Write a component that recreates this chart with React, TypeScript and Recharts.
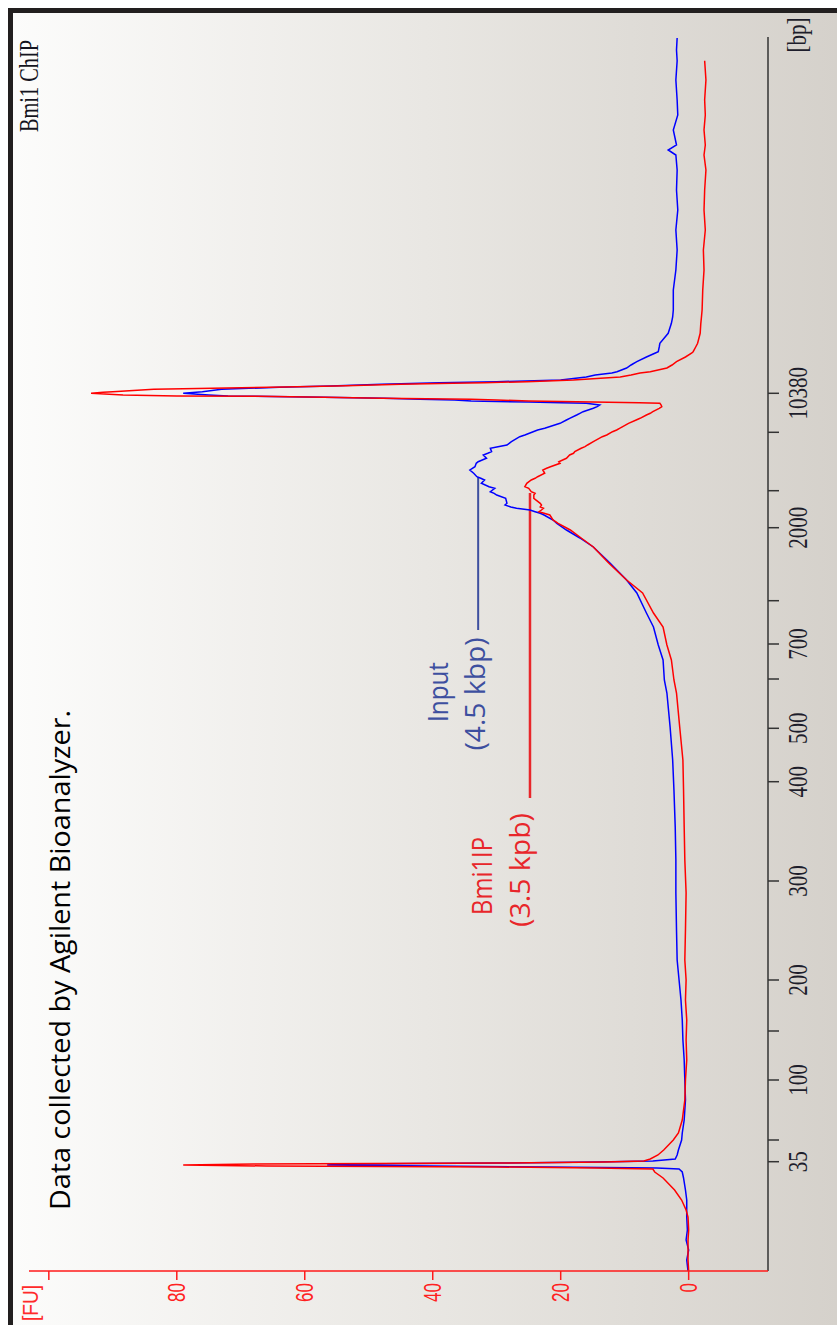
import React from 'react';
import { LineChart, Line, XAxis, YAxis, ReferenceLine } from 'recharts';

// migration time (s from start of the run window)
const times = [
  0, 1.1, 2.1, 3.1, 4.1, 5.4, 6.1, 7.1, 8.1, 9.3, 9.9, 10.2, 10.3, 10.4, 10.5, 10.6, 10.7, 10.8, 10.9, 11.0,
  11.2, 11.6, 12.1, 13.1, 13.8, 15.1, 17.1, 19.1, 21.1, 23.1, 25.1, 27.1, 29.1, 31.1, 34.1, 37.8, 41.1, 44.4,
  48.1, 51.1, 54.4, 57.8, 59.1, 61.1, 62.6, 64.4, 65.8, 67.8, 69.1, 70.8, 72.4, 73.3,
  74.1, 74.77, 75.1, 75.6, 75.77, 75.93, 76.1, 76.27, 76.4, 76.6, 76.77, 77.27, 77.6, 77.77, 77.93, 78.27,
  78.43, 78.77, 79.1, 79.27, 79.43, 79.77, 80.1, 80.27, 80.43, 80.77, 80.93, 81.27, 81.6, 81.77, 81.93, 82.27,
  82.43, 82.6, 82.93, 83.43, 83.6, 83.93, 84.1, 84.27, 84.77, 85.1, 85.27, 85.6, 85.77, 85.93, 86.27, 86.43, 86.6,
  86.77, 86.83, 86.9, 87.0, 87.1, 87.17, 87.27, 87.37, 87.47, 87.5, 87.6, 87.77, 87.87,
  87.93, 88.17, 88.37, 88.5, 88.67, 88.77, 88.83, 88.93, 89.1, 89.4, 89.6, 89.8, 89.93, 90.3, 90.6, 90.93, 91.4,
  91.8, 91.93, 92.4, 92.77, 93.77, 94.77, 95.4, 96.1, 98.1, 100.1, 102.1, 104.1, 106.1, 108.1, 110.1, 111.6,
  112.1, 112.6, 114.1, 115.6, 117.1, 119.1, 121.03, 122.1, 123.3,
];

// Input (blue)
const inputFU = [
  0.1, 0.3, 0.0, 0.4, 0.2, 0.3, 0.3, 0.3, 0.5, 0.8, 1.0, 1.5, 5, 22, 40, 56.5, 54, 29.5, 14.5, 5.6,
  2.1, 1.8, 1.6, 1.1, 1.0, 0.7, 0.5, 0.6, 0.7, 0.9, 1.0, 1.2, 1.5, 1.8, 1.9, 2.0, 2.0, 2.1,
  2.3, 2.5, 2.9, 3.4, 3.8, 4.0, 4.75, 5.5, 6.6, 8.1, 9.7, 12.3, 14.9, 17.0,
  19.1, 20.6, 21.2, 22.6, 23.2, 24.0, 24.8, 26.9, 27.8, 28.7, 28.4, 28.6, 30.0, 30.4, 31.0, 30.3,
  31.2, 32.4, 31.9, 32.5, 33.1, 33.6, 34.2, 33.8, 33.4, 33.2, 32.9, 31.6, 32.1, 31.4, 30.8, 31.0,
  29.8, 28.4, 27.7, 26.4, 25.6, 24.3, 23.6, 22.5, 20.1, 19.1, 18.6, 17.5, 17.0, 16.5, 14.9, 14.3, 13.9,
  16, 20, 25, 34, 36.6, 42, 47.6, 57, 68, 72, 75, 79, 77,
  76, 73, 64, 56, 48, 42, 39, 30, 20, 16, 14.6, 12, 11.2, 9.7, 9, 8.1, 6.6,
  5.2, 4.75, 4.6, 4.5, 3.2, 2.7, 2.5, 2.4, 2.4, 2.0, 1.8, 2.0, 1.7, 1.9, 1.8, 2.0,
  3.2, 1.9, 2.4, 1.7, 1.8, 2.0, 1.8, 1.9, 1.8,
];

// Bmi1 IP (red)
const bmi1FU = [
  0.0, 0.1, 0.1, 0.1, 0.0, 0.1, 0.4, 1.1, 2.2, 4.0, 5.3, 5.6, 14.5, 30, 66, 79, 68, 30, 13, 7,
  6.0, 4.8, 3.9, 2.4, 1.6, 1.0, 0.6, 0.5, 0.3, 0.4, 0.3, 0.5, 0.4, 0.6, 0.5, 0.4, 0.6, 0.7,
  0.8, 0.9, 1.4, 1.9, 2.3, 2.7, 3.4, 4.0, 5.5, 7.2, 9.7, 12.5, 14.9, 16.8,
  18.5, 20.4, 21.2, 21.7, 22.6, 23.4, 23.0, 22.7, 23.2, 23.0, 23.2, 24.2, 24.2, 24.0, 24.6, 25.0,
  25.6, 25.3, 24.6, 24.0, 23.6, 22.5, 22.8, 22.2, 21.6, 20.1, 20.3, 19.1, 18.6, 18.0, 17.8, 16.8,
  16.2, 15.8, 14.9, 13.5, 12.8, 11.9, 11.25, 10.8, 9.4, 8.2, 7.6, 6.6, 6.0, 5.6, 4.6, 4.2, 4.3,
  4.5, 7.7, 15, 25, 30, 34, 48, 57, 67.4, 80, 88.4, 93.4, 91.5,
  90, 83.6, 65.4, 55, 45, 36.9, 32, 25.3, 18, 10.7, 9, 7.6, 6, 3.4, 2.6, 1.9, 0.5,
  -0.5, -0.7, -1.1, -1.4, -1.8, -1.9, -2.0, -2.1, -2.2, -2.4, -2.3, -2.6, -2.4, -2.5, -2.7, -2.4,
  -2.5, -2.6, -2.4, -2.6, -2.5, -2.7, -2.5, null, null,
];

// ladder peaks (time) and their sizes in bp
const ladderTimes = [10.93, 13.1, 19.1, 24.0, 29.1, 39.0, 48.93, 54.27, 59.2, 62.7, 67.03, 74.33, 78.03, 83.87, 87.77];
const ladderLabels = ['35', '', '100', '', '200', '300', '400', '500', '', '700', '', '2000', '', '', '10380'];

const fuTicks = [0, 20, 40, 60, 80, 100];
const fuLabels = ['0', '20', '40', '60', '80', ''];

// leader lines from the labels to the smear maxima
const inputLeader = [{ x: 64.1, y: 32.9 }, { x: 79.4, y: 32.9 }];
const ipLeader = [{ x: 47.3, y: 24.8 }, { x: 77.8, y: 24.8 }];

const rows = times.map((t, i) => ({ t, input: inputFU[i], ip: bmi1FU[i] }));

const W = 1312;
const H = 824;
const BLUE_TXT = '#3d4f9f';
const RED_TXT = '#e8262a';

const Stretch = ({ x, y, sy, children, ...rest }: any) => (
  <g transform={`translate(${x},${y})`}>
    <text transform={`scale(1,${sy})`} {...rest}>{children}</text>
  </g>
);

const BpTick = (props: any) => {
  const { x, y, payload } = props;
  const i = ladderTimes.indexOf(payload.value);
  return (
    <Stretch x={x} y={y + 26} sy={1.3} textAnchor="middle" fontFamily="Liberation Serif" fontSize={21} fill="#1d1d2b">
      {ladderLabels[i]}
    </Stretch>
  );
};

const FuTick = (props: any) => {
  const { x, y, payload } = props;
  const i = fuTicks.indexOf(payload.value);
  return (
    <Stretch x={x - 1} y={y + 8} sy={1.37} textAnchor="end" fontFamily="Liberation Sans" fontSize={17} fill="#ff2020">
      {fuLabels[i]}
    </Stretch>
  );
};

const Notes = () => (
  <svg width={W} height={H} style={{ position: 'absolute', left: 0, top: 0, pointerEvents: 'none' }}>
    <Stretch x={1193} y={25} sy={1.3} fontFamily="Liberation Serif" fontSize={21} fill="#141420" textLength={92} lengthAdjust="spacingAndGlyphs">
      Bmi1 ChIP
    </Stretch>
    <Stretch x={1290} y={793} sy={1.3} textAnchor="middle" fontFamily="Liberation Serif" fontSize={21} fill="#1d1d2b">
      [bp]
    </Stretch>
    <Stretch x={4} y={25} sy={1.37} fontFamily="Liberation Sans" fontSize={16} fill="#ff2a2a" textLength={36} lengthAdjust="spacingAndGlyphs">
      [FU]
    </Stretch>
    <text x={115} y={57} fontFamily="Open Sans" fontSize={28} fill="#000" textLength={500} lengthAdjust="spacingAndGlyphs">
      Data collected by Agilent Bioanalyzer.
    </text>
    <g fontFamily="Open Sans" fontSize={27} textAnchor="middle">
      <text x={633} y={435} fill={BLUE_TXT} textLength={60} lengthAdjust="spacingAndGlyphs">Input</text>
      <text x={631} y={472} fill={BLUE_TXT} textLength={113} lengthAdjust="spacingAndGlyphs">(4.5 kbp)</text>
      <text x={449} y={479} fill={RED_TXT} textLength={78} lengthAdjust="spacingAndGlyphs">Bmi1IP</text>
      <text x={455} y={517} fill={RED_TXT} textLength={114} lengthAdjust="spacingAndGlyphs">(3.5 kpb)</text>
    </g>
  </svg>
);

export default function App() {
  return (
    <div style={{ position: 'absolute', left: 0, top: 0, width: 837, height: 1325, background: '#fff', overflow: 'hidden' }}>
      <style>{'body{margin:0}'}</style>
      <div
        style={{
          position: 'absolute', left: 8, top: 8, width: 829, height: 1317, boxSizing: 'border-box',
          borderTop: '5px solid #221f1f', borderLeft: '5px solid #221f1f',
        }}
      />
      <div
        style={{
          position: 'absolute', left: 0, top: 0, width: W, height: H,
          transformOrigin: '0 0', transform: 'translate(13px, 1325px) rotate(-90deg)',
          background: 'linear-gradient(to bottom, #fcfcfb 0%, #e9e7e3 50%, #d5d1cb 100%)',
        }}
      >
        <LineChart width={W} height={H} data={rows} margin={{ top: 16, right: 24, bottom: 0, left: 0 }}>
          <XAxis
            type="number"
            dataKey="t"
            domain={[0, 123.4]}
            ticks={ladderTimes}
            interval={0}
            allowDataOverflow
            height={69}
            tickSize={11}
            axisLine={{ stroke: '#333', strokeWidth: 1.5 }}
            tickLine={{ stroke: '#333', strokeWidth: 1.5 }}
            tick={BpTick}
          />
          <YAxis
            type="number"
            domain={[-12.4, 103.1]}
            ticks={fuTicks}
            interval={0}
            allowDataOverflow
            width={54}
            tickSize={9}
            axisLine={{ stroke: '#ff1a1a', strokeWidth: 1.5 }}
            tickLine={{ stroke: '#ff1a1a', strokeWidth: 1.5 }}
            tick={FuTick}
          />
          <ReferenceLine segment={inputLeader} stroke={BLUE_TXT} strokeWidth={2} ifOverflow="visible" />
          <ReferenceLine segment={ipLeader} stroke={RED_TXT} strokeWidth={2.5} ifOverflow="visible" />
          <Line type="linear" dataKey="input" stroke="#0000ff" strokeWidth={1.5} dot={false} isAnimationActive={false} />
          <Line type="linear" dataKey="ip" stroke="#ff0000" strokeWidth={1.5} dot={false} isAnimationActive={false} />
        </LineChart>
        <Notes />
      </div>
    </div>
  );
}
